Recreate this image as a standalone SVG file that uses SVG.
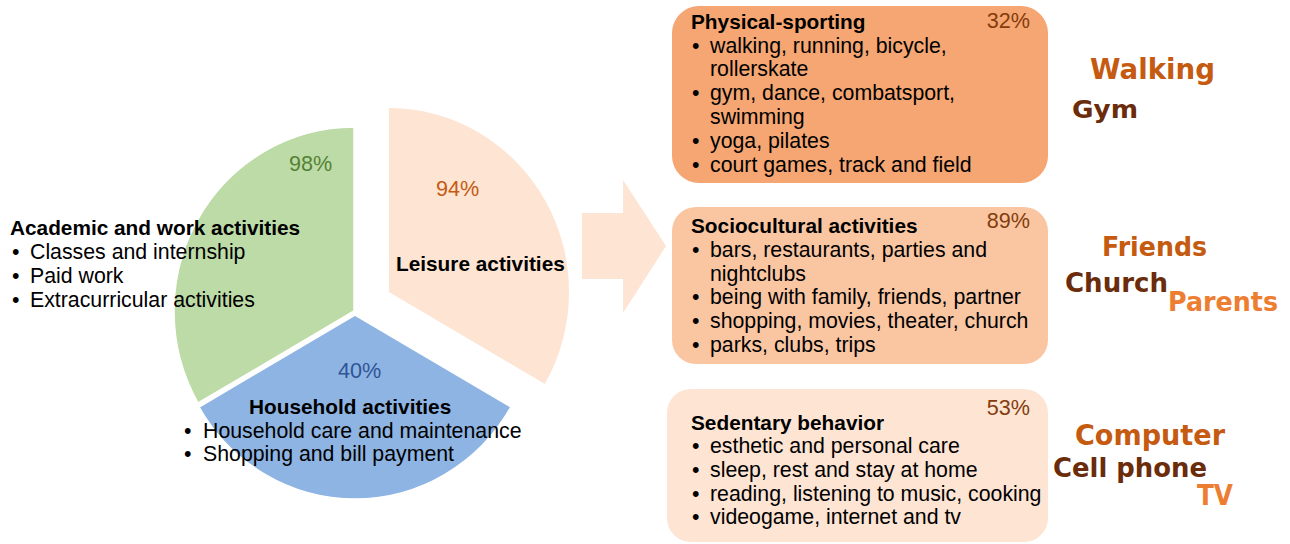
<svg xmlns="http://www.w3.org/2000/svg" width="1290" height="544" viewBox="0 0 1290 544">
<style>
text{font-family:"Liberation Sans",Arial,sans-serif;fill:#000}
.t{font-size:20.8px;font-weight:bold}
.b{font-size:21.3px}
.p{font-size:21.6px}
.w{font-family:"DejaVu Sans","Liberation Sans",sans-serif;font-weight:bold}
.c1{fill:#C55A11}.c2{fill:#6A2C0A}.c3{fill:#ED7D31}
</style>
<rect width="1290" height="544" fill="#fff"/>
<g id="pie-academic">
<path d="M354,311 L354,127 A180,184 0 0 0 198.1,403 Z" fill="#BDDBA6" stroke="#fff" stroke-width="1.5"/>
<text class="p" x="289" y="171" style="fill:#548235">98%</text>
<text class="t" x="10" y="235">Academic and work activities</text>
<text class="b" x="12" y="259">•</text><text class="b" x="30" y="259">Classes and internship</text>
<text class="b" x="12" y="283">•</text><text class="b" x="30" y="283">Paid work</text>
<text class="b" x="12" y="307">•</text><text class="b" x="30" y="307">Extracurricular activities</text>
</g>
<g id="pie-household">
<path d="M355,315 L199.1,407 A180,184 0 0 0 510.9,407 Z" fill="#8EB4E3" stroke="#fff" stroke-width="1.5"/>
<text class="p" x="338" y="378" style="fill:#2F5597">40%</text>
<text class="t" x="249" y="414">Household activities</text>
<text class="b" x="184" y="438">•</text><text class="b" x="203" y="438">Household care and maintenance</text>
<text class="b" x="184" y="461">•</text><text class="b" x="203" y="461">Shopping and bill payment</text>
</g>
<g id="pie-leisure">
<path d="M389,292 L389,108 A180,184 0 0 1 544.9,384 Z" fill="#FDE4D3"/>
<text class="p" x="436" y="196" style="fill:#C55A11">94%</text>
<text class="t" x="396" y="271">Leisure activities</text>
</g>
<g id="connectors">
<path d="M582,213 L623,213 L623,180 L666,246 L623,313 L623,279 L582,279 Z" fill="#FDE4D3"/>
</g>
<g id="box-physical">
<rect x="672" y="6" width="376" height="177" rx="27" fill="#F5A672"/>
<text class="t" x="691" y="29">Physical-sporting</text>
<text class="p" x="1030" y="28" text-anchor="end" style="fill:#843C0C">32%</text>
<text class="b" x="692" y="53">•</text><text class="b" x="710" y="53">walking, running, bicycle,</text>
<text class="b" x="710" y="76">rollerskate</text>
<text class="b" x="692" y="100">•</text><text class="b" x="710" y="100">gym, dance, combatsport,</text>
<text class="b" x="710" y="124">swimming</text>
<text class="b" x="692" y="148">•</text><text class="b" x="710" y="148">yoga, pilates</text>
<text class="b" x="692" y="172">•</text><text class="b" x="710" y="172">court games, track and field</text>
</g>
<g id="box-sociocultural">
<rect x="672" y="207" width="376" height="157" rx="24" fill="#FAC6A2"/>
<text class="t" x="691" y="233">Sociocultural activities</text>
<text class="p" x="1030" y="228" text-anchor="end" style="fill:#843C0C">89%</text>
<text class="b" x="692" y="257">•</text><text class="b" x="710" y="257">bars, restaurants, parties and</text>
<text class="b" x="710" y="281">nightclubs</text>
<text class="b" x="692" y="304">•</text><text class="b" x="710" y="304">being with family, friends, partner</text>
<text class="b" x="692" y="328">•</text><text class="b" x="710" y="328">shopping, movies, theater, church</text>
<text class="b" x="692" y="352">•</text><text class="b" x="710" y="352">parks, clubs, trips</text>
</g>
<g id="box-sedentary">
<rect x="667" y="389" width="381" height="153" rx="24" fill="#FDE4D3"/>
<text class="t" x="691" y="430">Sedentary behavior</text>
<text class="p" x="1030" y="415" text-anchor="end" style="fill:#843C0C">53%</text>
<text class="b" x="692" y="453">•</text><text class="b" x="710" y="453">esthetic and personal care</text>
<text class="b" x="692" y="477">•</text><text class="b" x="710" y="477">sleep, rest and stay at home</text>
<text class="b" x="692" y="501">•</text><text class="b" x="710" y="501">reading, listening to music, cooking</text>
<text class="b" x="692" y="524">•</text><text class="b" x="710" y="524">videogame, internet and tv</text>
</g>
<g id="cloud-physical">
<text class="w c1" x="1090" y="79" font-size="28" textLength="125" lengthAdjust="spacingAndGlyphs">Walking</text>
<text class="w c2" x="1072" y="118" font-size="25" textLength="66" lengthAdjust="spacingAndGlyphs">Gym</text>
</g>
<g id="cloud-sociocultural">
<text class="w c1" x="1102" y="256" font-size="27" textLength="105" lengthAdjust="spacingAndGlyphs">Friends</text>
<text class="w c2" x="1065" y="292" font-size="26" textLength="103" lengthAdjust="spacingAndGlyphs">Church</text>
<text class="w c3" x="1168" y="311" font-size="27" textLength="110" lengthAdjust="spacingAndGlyphs">Parents</text>
</g>
<g id="cloud-sedentary">
<text class="w c1" x="1075" y="445" font-size="29" textLength="150" lengthAdjust="spacingAndGlyphs">Computer</text>
<text class="w c2" x="1053" y="477" font-size="26" textLength="154" lengthAdjust="spacingAndGlyphs">Cell phone</text>
<text class="w c3" x="1197" y="505" font-size="29" textLength="36" lengthAdjust="spacingAndGlyphs">TV</text>
</g>
</svg>
